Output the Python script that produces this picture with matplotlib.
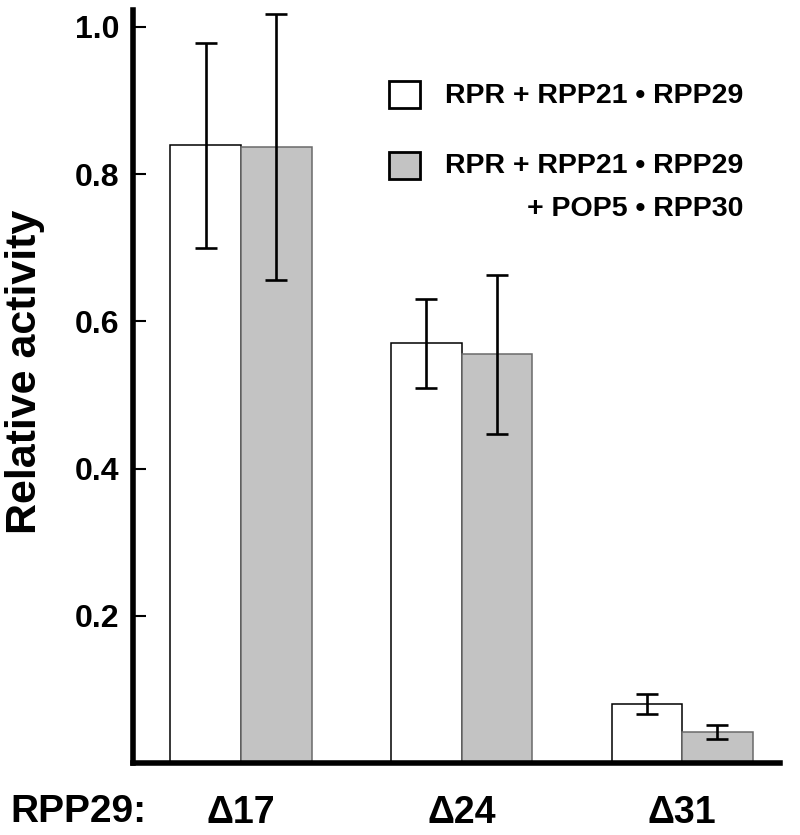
#!/usr/bin/env python3
"""Relative activity of RPP29 deletion mutants, with and without POP5-RPP30."""

import matplotlib
matplotlib.use("Agg")
import matplotlib.pyplot as plt
import numpy as np
from matplotlib.patches import Rectangle

plt.rcParams["font.family"] = ["Liberation Sans", "DejaVu Sans"]
plt.rcParams["font.weight"] = "bold"

mutants = ["\u039417", "\u039424", "\u039431"]
rpr_21_29 = [0.839, 0.570, 0.080]
rpr_21_29_err = [0.139, 0.060, 0.014]
rpr_all = [0.837, 0.555, 0.042]
rpr_all_err = [0.181, 0.108, 0.009]
yticks = [0.2, 0.4, 0.6, 0.8, 1.0]

W, H = 800, 835
fig = plt.figure(figsize=(W / 100, H / 100), dpi=100)
ax = fig.add_axes([133 / W, 1 - 763 / H, (780 - 133) / W, (763 - 10) / H])

x = np.arange(len(mutants))
bw = 0.32
err_kw = dict(ecolor="black", elinewidth=1.9, capsize=8, capthick=1.9)
ax.bar(x - bw / 2, rpr_21_29, bw, color="white", edgecolor="black", linewidth=1.1)
ax.bar(x + bw / 2, rpr_all, bw, color="#c3c3c3", edgecolor="#6a6a6a", linewidth=1.1)
ax.errorbar(x - bw / 2, rpr_21_29, yerr=rpr_21_29_err, fmt="none", **err_kw)
ax.errorbar(x + bw / 2, rpr_all, yerr=rpr_all_err, fmt="none", **err_kw)

ax.set_xlim(-0.49, 2.444)
ax.set_ylim(0, 1.023)
for s in ("top", "right"):
    ax.spines[s].set_visible(False)
for s in ("left", "bottom"):
    ax.spines[s].set_linewidth(4)

ax.set_yticks(yticks)
ax.set_yticklabels([f"{v:.1f}" for v in yticks], fontsize=23, fontweight="bold")
ax.tick_params(axis="y", direction="in", length=9, width=1.5, pad=10)
ax.set_xticks(x)
ax.set_xticklabels(mutants, fontsize=27, fontweight="bold")
ax.tick_params(axis="x", length=0, pad=23)

fig.text(10 / W, 0.027, "RPP29:", fontsize=28, fontweight="bold", ha="left", va="center")
fig.text(25 / W, 0.555, "Relative activity", fontsize=31, fontweight="bold",
         rotation=90, ha="center", va="center")

# legend drawn by hand so the second label can wrap right-aligned
fig.patches.append(Rectangle((389 / W, 1 - 108 / H), 31 / W, 27 / H, transform=fig.transFigure,
                             facecolor="white", edgecolor="black", linewidth=2))
fig.patches.append(Rectangle((389 / W, 1 - 179 / H), 31 / W, 27 / H, transform=fig.transFigure,
                             facecolor="#c3c3c3", edgecolor="black", linewidth=2))
fig.text(445 / W, 1 - 96 / H, "RPR + RPP21 \u2022 RPP29", fontsize=20.5, fontweight="bold",
         ha="left", va="center")
fig.text(445 / W, 1 - 153 / H, "RPR + RPP21 \u2022 RPP29\n+ POP5 \u2022 RPP30", fontsize=20.5,
         fontweight="bold", ha="left", va="top", multialignment="right", linespacing=1.85)

fig.savefig("out.png", dpi=100)
